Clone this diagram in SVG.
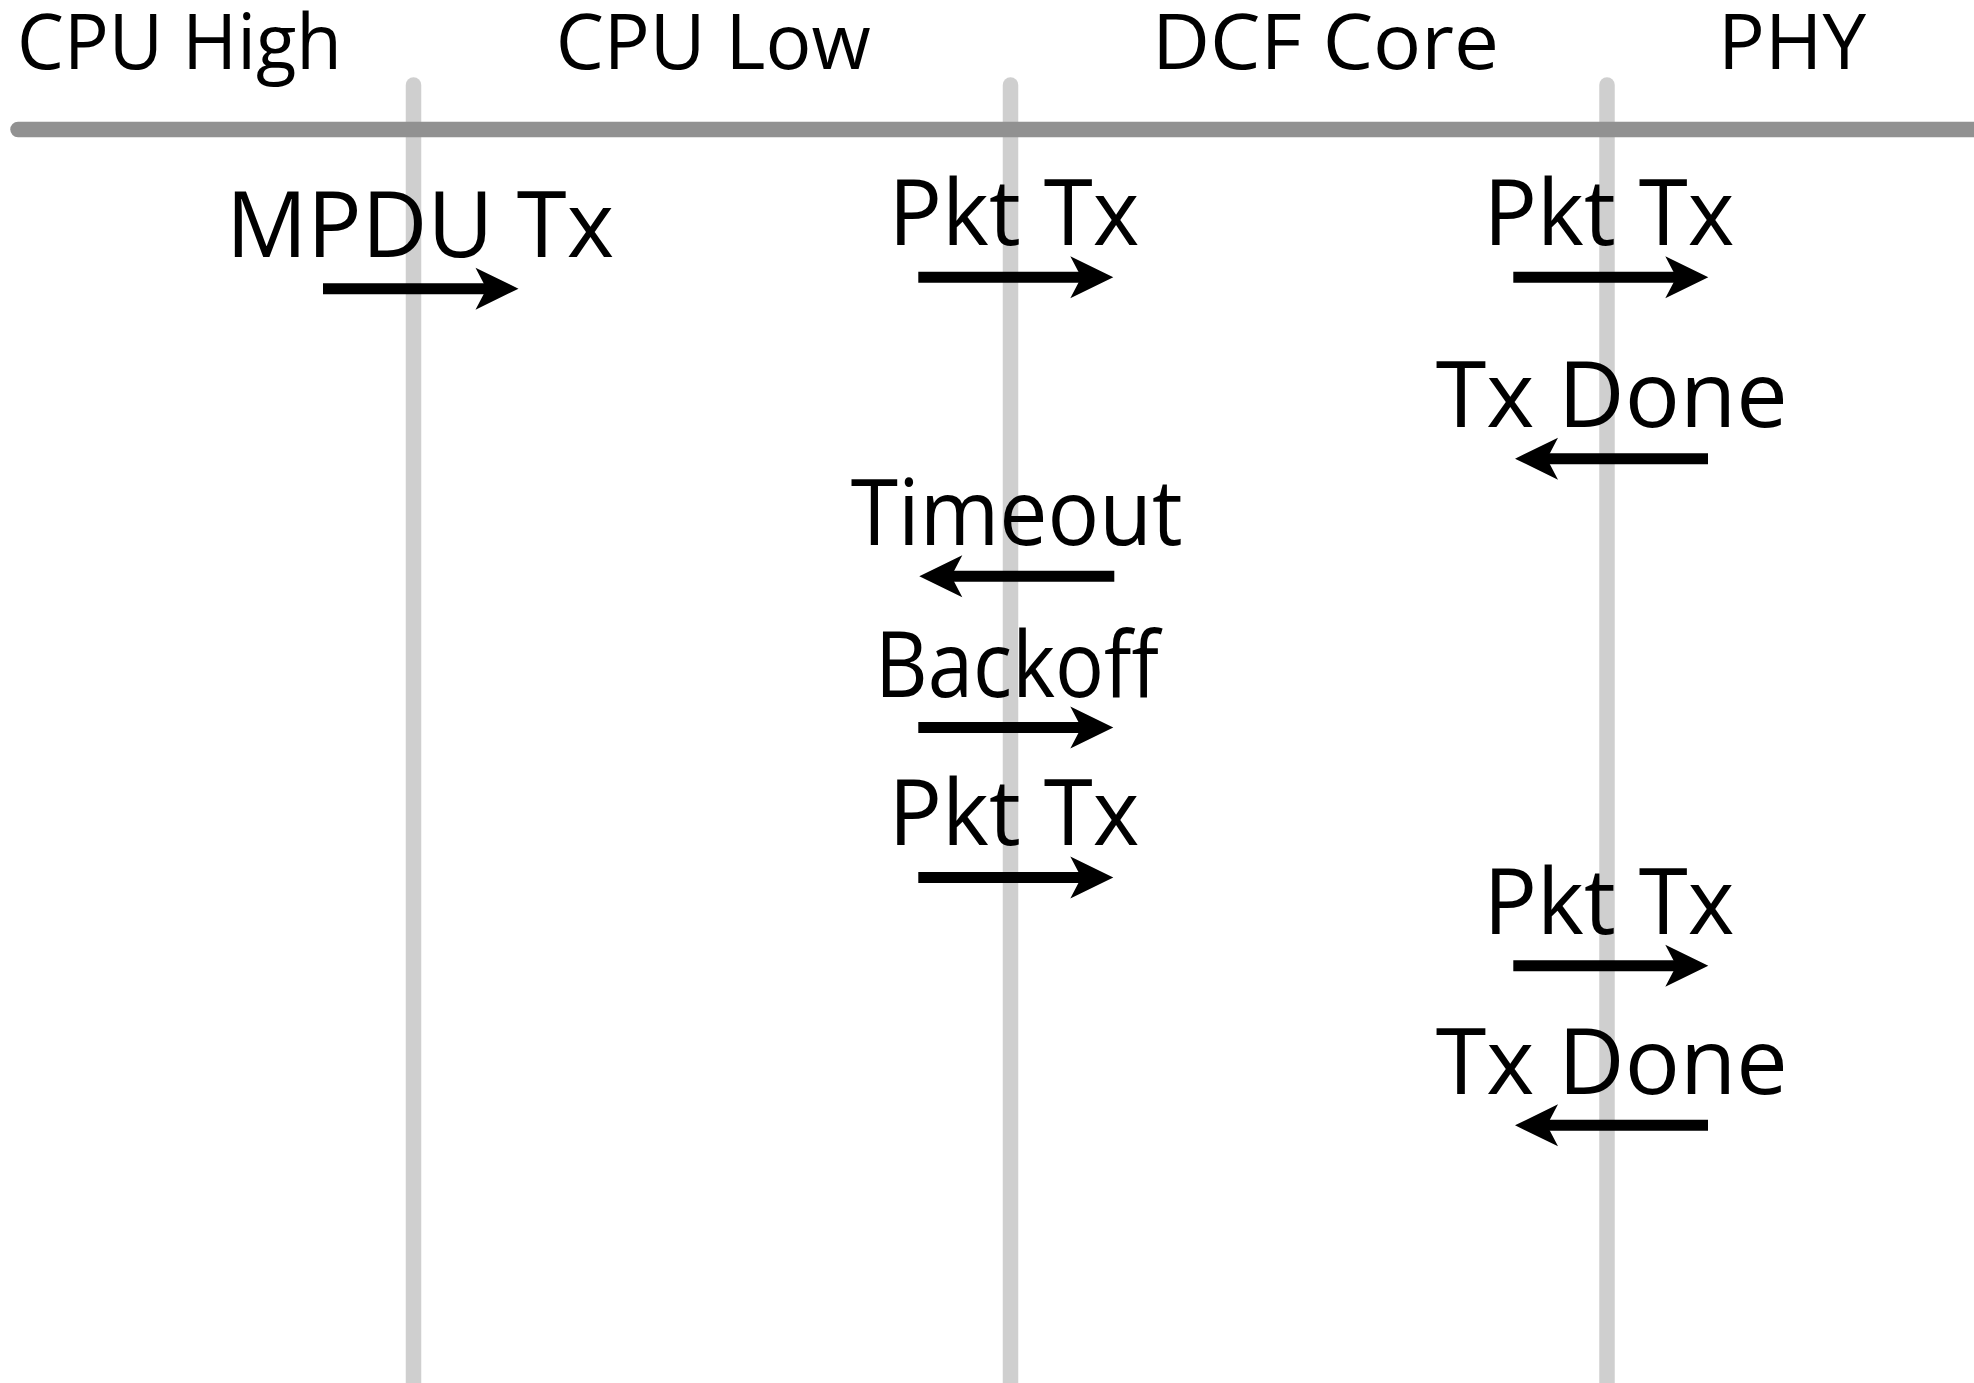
<svg xmlns="http://www.w3.org/2000/svg" width="1974" height="1383" viewBox="0 0 1974 1383">
<style>
.lane{stroke:#cfcfcf;stroke-width:15.5;stroke-linecap:round;fill:none}
.rule{stroke:#919191;stroke-width:15.5;stroke-linecap:round;fill:none}
.hdr{font-family:"Open Sans","Noto Sans","Liberation Sans",sans-serif;font-size:77px;font-weight:500;fill:#000}
.lbl{font-family:"Open Sans","Noto Sans","Liberation Sans",sans-serif;font-size:91px;font-weight:500;fill:#000}
.arr{stroke:#000;stroke-width:11;fill:none;stroke-linecap:butt;marker-end:url(#head)}
</style>
<defs>
<marker id="head" markerUnits="userSpaceOnUse" markerWidth="60" markerHeight="60" refX="0" refY="0" orient="auto" overflow="visible" viewBox="-20 -30 60 60">
<path d="M30,0 L-13,-21 L-2,0 L-13,21 Z" fill="#000"/>
</marker>
</defs>
<rect width="1974" height="1383" fill="#fff"/>
<g id="lanes">
<line class="lane" x1="413.5" y1="85" x2="413.5" y2="1400"/>
<line class="lane" x1="1010.5" y1="85" x2="1010.5" y2="1400"/>
<line class="lane" x1="1607" y1="85" x2="1607" y2="1400"/>
</g>
<g id="header-rule">
<line class="rule" x1="18" y1="129.5" x2="1995" y2="129.5"/>
</g>
<g id="headers">
<g id="h-cpu-high"><text class="hdr" x="17" y="69" textLength="325" lengthAdjust="spacingAndGlyphs">CPU High</text></g>
<g id="h-cpu-low"><text class="hdr" x="555.7" y="69" textLength="315" lengthAdjust="spacingAndGlyphs">CPU Low</text></g>
<g id="h-dcf-core"><text class="hdr" x="1152" y="69" textLength="347" lengthAdjust="spacingAndGlyphs">DCF Core</text></g>
<g id="h-phy"><text class="hdr" x="1718" y="69" textLength="148" lengthAdjust="spacingAndGlyphs">PHY</text></g>
</g>
<g id="labels">
<g id="l-mpdu-tx"><text class="lbl" x="226" y="256.7" textLength="388" lengthAdjust="spacingAndGlyphs">MPDU Tx</text></g>
<g id="l-pkt-tx-1"><text class="lbl" x="888.5" y="245" textLength="251" lengthAdjust="spacingAndGlyphs">Pkt Tx</text></g>
<g id="l-pkt-tx-2"><text class="lbl" x="1483.5" y="245" textLength="251" lengthAdjust="spacingAndGlyphs">Pkt Tx</text></g>
<g id="l-tx-done-1"><text class="lbl" x="1435.7" y="427.3" textLength="352" lengthAdjust="spacingAndGlyphs">Tx Done</text></g>
<g id="l-timeout"><text class="lbl" x="850.7" y="545" textLength="332" lengthAdjust="spacingAndGlyphs">Timeout</text></g>
<g id="l-backoff"><text class="lbl" x="875" y="696.7" textLength="284" lengthAdjust="spacingAndGlyphs">Backoff</text></g>
<g id="l-pkt-tx-3"><text class="lbl" x="888.5" y="845" textLength="251" lengthAdjust="spacingAndGlyphs">Pkt Tx</text></g>
<g id="l-pkt-tx-4"><text class="lbl" x="1483.5" y="934.3" textLength="251" lengthAdjust="spacingAndGlyphs">Pkt Tx</text></g>
<g id="l-tx-done-2"><text class="lbl" x="1435.7" y="1094" textLength="352" lengthAdjust="spacingAndGlyphs">Tx Done</text></g>
</g>
<g id="connectors">
<line class="arr" x1="323" y1="288.7" x2="488.5" y2="288.7"/>
<line class="arr" x1="918.3" y1="277.2" x2="1083.3" y2="277.2"/>
<line class="arr" x1="1513.3" y1="277.2" x2="1678.3" y2="277.2"/>
<line class="arr" x1="1708" y1="458.7" x2="1545" y2="458.7"/>
<line class="arr" x1="1114.3" y1="576.2" x2="949.3" y2="576.2"/>
<line class="arr" x1="918.3" y1="727.5" x2="1083.3" y2="727.5"/>
<line class="arr" x1="918.3" y1="877.5" x2="1083.3" y2="877.5"/>
<line class="arr" x1="1513.3" y1="965.7" x2="1678.3" y2="965.7"/>
<line class="arr" x1="1708" y1="1125.3" x2="1545" y2="1125.3"/>
</g>
</svg>
